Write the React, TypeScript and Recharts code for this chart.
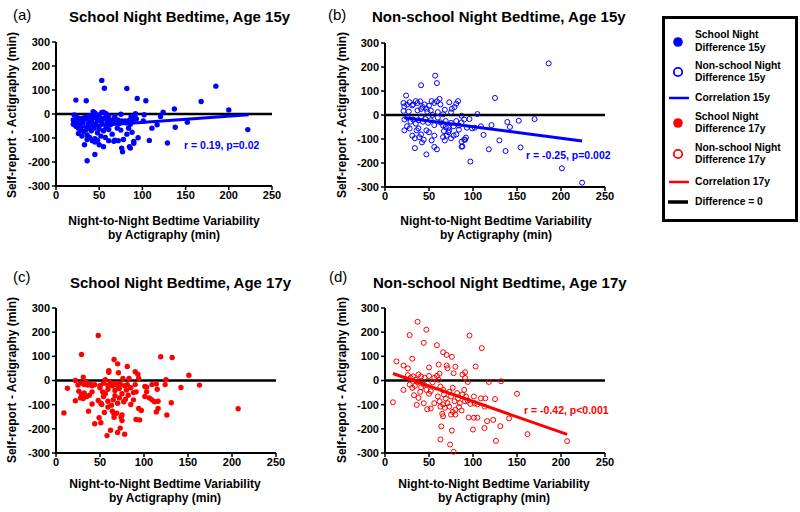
import React from 'react';
import { ScatterChart, Scatter, XAxis, YAxis, ReferenceLine } from 'recharts';

// x = night-to-night bedtime variability by actigraphy (min), y = self-report - actigraphy (min)
const schoolNight15: [number, number][] = [
  [53, 140], [56, 107], [82, 106], [23, 58], [35, 55], [94, 65], [104, 55], [168, 52], [185, 116], [200, 17],
  [137, 21], [124, 7], [43, 10], [45, 4], [53, 6], [55, 7], [58, 1], [75, -1], [92, 1], [102, -3],
  [21, -4], [20, -25], [24, -32], [27, -23], [30, -19], [33, -22], [38, -21], [41, -26], [44, -12], [47, -19],
  [51, -15], [56, -18], [60, -23], [65, -25], [69, -22], [72, -26], [76, -29], [80, -29], [85, -26], [89, -23],
  [93, -21], [101, -29], [111, -59], [117, -45], [121, -10], [138, -55], [152, -34], [222, -65], [20, -43], [23, -51],
  [26, -59], [29, -67], [32, -73], [35, -65], [38, -56], [41, -70], [44, -59], [46, -45], [48, -78], [50, -62],
  [52, -92], [55, -70], [58, -54], [61, -65], [63, -45], [65, -84], [68, -109], [71, -59], [73, -40], [75, -67],
  [78, -106], [82, -84], [84, -59], [86, -43], [88, -76], [90, -114], [95, -99], [108, -110], [33, -128], [36, -106],
  [39, -98], [42, -111], [45, -103], [50, -128], [55, -136], [67, -114], [77, -157], [85, -136], [86, -142], [90, -122],
  [36, -195], [45, -169], [129, -121], [76, -142], [72, -111], [22, -36], [28, -40], [31, -36], [37, -40], [42, -36],
  [48, -29], [53, -34], [59, -37], [63, -32], [67, -34], [82, -37], [87, -10], [91, -12], [25, -15], [34, -12],
  [39, -7], [49, -4], [61, -7], [68, -10], [36, -87], [30, -92], [26, -81], [57, -98], [61, -111], [45, -117],
  [48, -109],
];

const nonSchoolNight15: [number, number][] = [
  [186, 215], [57, 164], [59, 133], [41, 124], [125, 71], [24, 81], [105, 4], [170, -17], [152, -24], [139, -29],
  [142, -50], [121, -42], [112, -83], [130, -106], [118, -143], [137, -150], [154, -135], [97, -194], [201, -222], [224, -282],
  [47, -164], [34, -138], [59, -143], [56, -133], [87, -132], [91, -103], [21, 50], [22, 36], [25, 43], [28, 53],
  [31, 40], [35, 58], [37, 50], [40, 57], [32, 44], [43, 33], [45, 44], [47, 26], [50, 39], [53, 58],
  [56, 50], [59, 57], [62, 67], [63, 44], [68, 22], [73, 53], [76, 26], [79, 33], [81, 47], [83, 58],
  [21, 17], [27, 14], [37, 19], [41, 25], [48, 14], [52, 19], [54, 0], [60, 12], [66, 3], [75, 11],
  [87, -3], [22, -19], [26, -11], [29, -28], [32, -19], [35, -36], [38, -22], [41, -6], [43, -28], [46, -17],
  [49, -33], [52, -22], [56, -42], [60, -11], [63, -31], [66, -44], [69, -25], [72, -53], [75, -33], [78, -47],
  [81, -25], [84, -44], [87, -31], [90, -19], [93, -53], [96, -17], [99, -56], [102, -53], [109, -47], [22, -64],
  [25, -47], [28, -56], [31, -86], [34, -97], [36, -64], [38, -56], [41, -81], [44, -103], [47, -64], [50, -72],
  [53, -106], [56, -86], [66, -92], [68, -106], [70, -86], [72, -72], [75, -97], [78, -86], [81, -81], [84, -61],
  [87, -111], [88, -131], [90, -103], [92, -94], [67, -67], [69, -50], [73, -64], [42, -114], [39, -92],
];

const schoolNight17: [number, number][] = [
  [48, 186], [29, 108], [119, 98], [132, 95], [151, 22], [163, -19], [142, -29], [207, -117], [9, -134], [13, -32],
  [22, -84], [37, -127], [44, -179], [51, -175], [58, -228], [62, -206], [70, -215], [73, -197], [78, -222], [91, -161],
  [95, -163], [126, -143], [131, -92], [66, 87], [70, 69], [81, 58], [60, 41], [60, 34], [90, 36], [93, 26],
  [71, 32], [31, 14], [22, 0], [125, 3], [116, -116], [114, -130], [25, -19], [28, -11], [32, -17], [34, -6],
  [36, -19], [39, -14], [41, -22], [44, -17], [50, -22], [54, -11], [56, 3], [59, -19], [62, -8], [64, -22],
  [67, -17], [69, -11], [71, -25], [73, -14], [76, 8], [78, -22], [81, -17], [83, 8], [85, -30], [90, -17],
  [94, 8], [101, -25], [103, -28], [109, -17], [114, -14], [124, -17], [26, -44], [29, -58], [32, -52], [35, -66],
  [38, -61], [41, -47], [28, -72], [31, -74], [48, -83], [51, -94], [54, -66], [56, -55], [59, -86], [63, -102],
  [65, -80], [67, -63], [70, -94], [72, -72], [75, -55], [77, -88], [79, -77], [82, -61], [85, -99], [88, -80],
  [91, -47], [94, -116], [97, -124], [101, -66], [103, -47], [106, -72], [109, -80], [112, -88], [116, -86], [115, -36],
  [50, -30], [53, -47], [59, -36], [67, -41], [72, -33], [80, -39], [88, -50], [55, -132], [64, -127], [66, -141],
  [69, -135], [66, -152], [74, -152], [75, -143], [75, -166], [49, -154], [52, -99], [59, -110], [41, -97],
];

const nonSchoolNight17: [number, number][] = [
  [37, 243], [28, 188], [47, 210], [44, 156], [96, 186], [59, 146], [66, 117], [70, 106], [76, 98], [110, 134],
  [31, 90], [13, 79], [21, 62], [26, 50], [50, 54], [61, 66], [70, 62], [71, 51], [80, 57], [103, 58],
  [91, 34], [132, -3], [118, -6], [150, -55], [9, -90], [21, -39], [36, -101], [109, -74], [114, -74], [125, -77],
  [141, -157], [162, -222], [207, -251], [126, -250], [131, -189], [123, -163], [116, -168], [113, -197], [100, -203], [101, -154],
  [105, -154], [63, -244], [74, -265], [78, -295], [76, -207], [64, -190], [66, -148], [65, -138], [95, -153], [26, 22],
  [29, 11], [32, 17], [35, 3], [38, 25], [41, 17], [37, -6], [28, -17], [31, -30], [34, -22], [40, -47],
  [41, -28], [44, -17], [47, -39], [50, -55], [52, -44], [54, -8], [56, 11], [59, 19], [61, 3], [63, -25],
  [66, -39], [67, -58], [69, -74], [71, -94], [73, -47], [75, -66], [77, -30], [79, -86], [82, -52], [83, -74],
  [85, -94], [88, -58], [90, -39], [92, -66], [94, -83], [97, -97], [66, -99], [68, -113], [73, -108], [77, -130],
  [80, -121], [84, -110], [87, -124], [91, -86], [56, -94], [52, -116], [48, -119], [44, -94], [38, -72], [33, -61],
  [60, -66], [62, -86], [63, -108], [75, -141], [80, -141], [45, 11], [50, 19], [62, 28], [78, 30], [88, 25],
  [91, 11], [94, -6], [102, -94], [105, -99], [113, -108], [101, -66],
];

// regression line end points
const fitSchool15 = [{ x: 22, y: -55 }, { x: 223, y: -3 }];
const fitNonSchool15 = [{ x: 22, y: -11 }, { x: 224, y: -108 }];
const fitNonSchool17 = [{ x: 9, y: 29 }, { x: 207, y: -223 }];

const xTicks = [0, 50, 100, 150, 200, 250];
const yTicks = [-300, -200, -100, 0, 100, 200, 300];

const BLUE = '#0000ff';
const RED = '#ff0000';
const FONT = "'Liberation Sans', Arial, Helvetica, sans-serif";

const legendItems = [
  { kind: 'dot', color: BLUE, lines: ['School Night', 'Difference 15y'], y: 41.5 },
  { kind: 'ring', color: BLUE, lines: ['Non-school Night', 'Difference 15y'], y: 72 },
  { kind: 'line', color: BLUE, lines: ['Correlation 15y'], y: 97.5 },
  { kind: 'dot', color: RED, lines: ['School Night', 'Difference 17y'], y: 123 },
  { kind: 'ring', color: RED, lines: ['Non-school Night', 'Difference 17y'], y: 154 },
  { kind: 'line', color: RED, lines: ['Correlation 17y'], y: 181.5 },
  { kind: 'zero', color: '#000', lines: ['Difference = 0'], y: 202 },
];

const toPoints = (arr: [number, number][]) => arr.map(([x, y]) => ({ x, y }));

function Txt({ x, y, size, bold = true, color = '#000', anchor = 'start', rotate = false, children }: any) {
  const tx = anchor === 'middle' ? '-50%' : '0';
  return (
    <div
      style={{
        position: 'absolute',
        left: x,
        top: y,
        transform: rotate ? 'translate(-50%,-50%) rotate(-90deg)' : `translate(${tx},-50%)`,
        fontFamily: FONT,
        fontSize: size,
        fontWeight: bold ? 700 : 400,
        color,
        whiteSpace: 'nowrap',
        lineHeight: 1,
      }}
    >
      {children}
    </div>
  );
}

function Panel({ left, top, width, height, yw, mt, mr, data, color, filled, fit }: any) {
  const dot = (p: any) =>
    filled ? (
      <circle cx={p.cx} cy={p.cy} r={2.7} fill={color} stroke="none" />
    ) : (
      <circle cx={p.cx} cy={p.cy} r={2.5} fill="#fff" fillOpacity={0} stroke={color} strokeWidth={1} />
    );
  const tick = { fill: '#000', fontSize: 11, fontWeight: 700, fontFamily: FONT };
  return (
    <div style={{ position: 'absolute', left, top }}>
      <ScatterChart width={width} height={height} margin={{ top: mt, right: mr, left: 0, bottom: 0 }}>
        <XAxis
          type="number"
          dataKey="x"
          domain={[0, 250]}
          ticks={xTicks}
          height={24}
          tickSize={4}
          tickMargin={1}
          axisLine={{ stroke: '#000', strokeWidth: 2 }}
          tickLine={{ stroke: '#000', strokeWidth: 1.5 }}
          tick={tick}
        />
        <YAxis
          type="number"
          dataKey="y"
          domain={[-300, 300]}
          ticks={yTicks}
          width={yw}
          tickSize={4}
          tickMargin={2}
          axisLine={{ stroke: '#000', strokeWidth: 2 }}
          tickLine={{ stroke: '#000', strokeWidth: 1.5 }}
          tick={tick}
        />
        <ReferenceLine y={0} stroke="#000" strokeWidth={2.6} />
        <Scatter
          data={toPoints(data)}
          fill={color}
          shape={dot}
          activeShape={dot}
          isAnimationActive={false}
        />
        {fit && <ReferenceLine segment={fit} stroke={color} strokeWidth={3} />}
      </ScatterChart>
    </div>
  );
}

function LegendIcon({ kind, color }: any) {
  return (
    <svg width={24} height={12} style={{ display: 'block' }}>
      {kind === 'dot' && <circle cx={10} cy={6} r={4.8} fill={color} />}
      {kind === 'ring' && <circle cx={10} cy={6} r={4.2} fill="none" stroke={color} strokeWidth={1.8} />}
      {kind === 'line' && <line x1={1} x2={21} y1={6} y2={6} stroke={color} strokeWidth={2.5} />}
      {kind === 'zero' && <line x1={0} x2={20} y1={6} y2={6} stroke={color} strokeWidth={3.5} />}
    </svg>
  );
}

export default function App() {
  const xLabel = (cx: number, y1: number) => (
    <>
      <Txt x={cx} y={y1} size={12} anchor="middle">Night-to-Night Bedtime Variability</Txt>
      <Txt x={cx} y={y1 + 14} size={12} anchor="middle">by Actigraphy (min)</Txt>
    </>
  );
  return (
    <div style={{ position: 'fixed', left: 0, top: 0, width: 800, height: 512, background: '#fff', overflow: 'hidden' }}>
      <Panel left={0} top={0} width={290} height={210} yw={56} mt={42} mr={18} data={schoolNight15} color={BLUE} filled fit={fitSchool15} />
      <Panel left={330} top={0} width={290} height={211} yw={55} mt={43} mr={15} data={nonSchoolNight15} color={BLUE} filled={false} fit={fitNonSchool15} />
      <Panel left={0} top={266} width={295} height={211} yw={56} mt={42} mr={19} data={schoolNight17} color={RED} filled />
      <Panel left={330} top={266} width={290} height={211} yw={55} mt={42} mr={15} data={nonSchoolNight17} color={RED} filled={false} fit={fitNonSchool17} />

      <Txt x={13} y={14} size={15} bold={false}>(a)</Txt>
      <Txt x={69} y={16} size={15}>School Night Bedtime, Age 15y</Txt>
      <Txt x={328} y={14} size={15} bold={false}>(b)</Txt>
      <Txt x={372} y={16} size={15}>Non-school Night Bedtime, Age 15y</Txt>
      <Txt x={13} y={276} size={15} bold={false}>(c)</Txt>
      <Txt x={70} y={282} size={15}>School Night Bedtime, Age 17y</Txt>
      <Txt x={329} y={276} size={15} bold={false}>(d)</Txt>
      <Txt x={373} y={282} size={15}>Non-school Night Bedtime, Age 17y</Txt>

      <Txt x={12} y={115} size={12} rotate>Self-report - Actigraphy (min)</Txt>
      <Txt x={342} y={115} size={12} rotate>Self-report - Actigraphy (min)</Txt>
      <Txt x={12} y={380} size={12} rotate>Self-report - Actigraphy (min)</Txt>
      <Txt x={342} y={380} size={12} rotate>Self-report - Actigraphy (min)</Txt>

      {xLabel(164, 221)}
      {xLabel(496, 221)}
      {xLabel(165, 484)}
      {xLabel(494, 484)}

      <Txt x={184} y={145} size={10.5} color={BLUE}>r = 0.19, p=0.02</Txt>
      <Txt x={526} y={155} size={10.5} color={BLUE}>r = -0.25, p=0.002</Txt>
      <Txt x={524} y={410} size={10.5} color={RED}>r = -0.42, p&lt;0.001</Txt>

      <div style={{ position: 'absolute', left: 662, top: 16, width: 130, height: 200, border: '3px solid #000' }} />
      {legendItems.map((it, i) => (
        <React.Fragment key={i}>
          <div style={{ position: 'absolute', left: 668, top: it.y - 6 }}>
            <LegendIcon kind={it.kind} color={it.color} />
          </div>
          {it.lines.map((ln, j) => (
            <Txt key={j} x={695} y={it.y + (it.lines.length === 2 ? (j === 0 ? -6.2 : 6.2) : 0)} size={10.3}>
              {ln}
            </Txt>
          ))}
        </React.Fragment>
      ))}
    </div>
  );
}
